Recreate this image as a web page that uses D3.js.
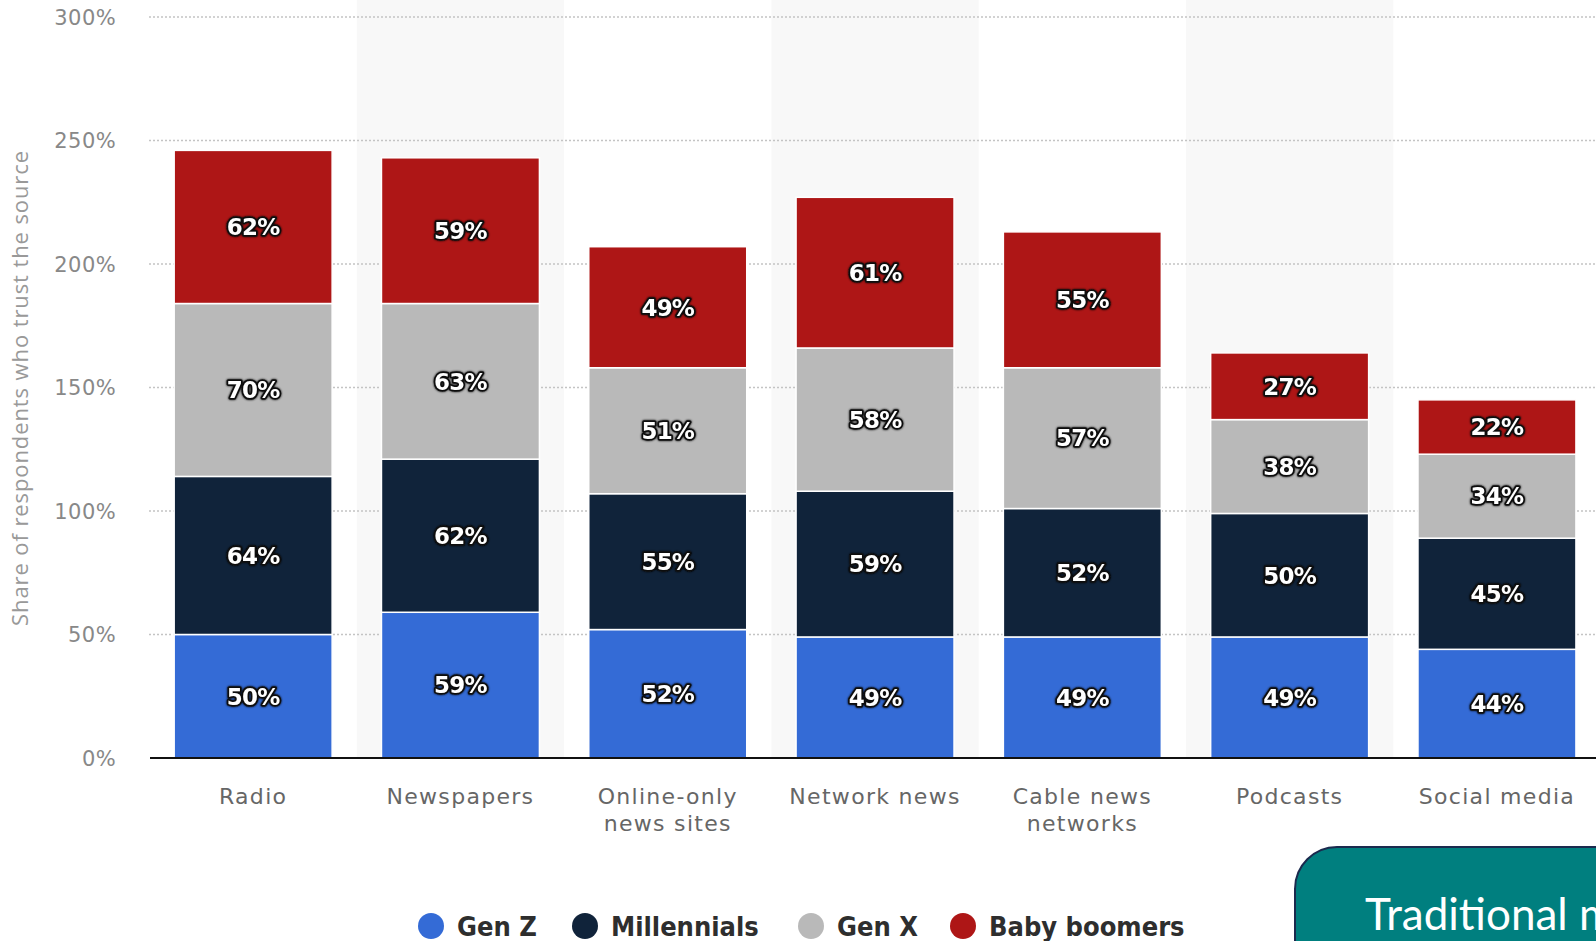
<!DOCTYPE html>
<meta charset="utf-8">
<script src="https://cdn.jsdelivr.net/npm/d3@7"></script>
<style>
body { margin: 0; background: #fff; overflow: hidden; }
.grid line { stroke: #c4c4c4; stroke-width: 1.6px; stroke-dasharray: 2,2; }
.tick-y { font-family: "DejaVu Sans", sans-serif; font-size: 21px; fill: #888; letter-spacing: 0.4px; }
.tick-x { font-family: "DejaVu Sans", sans-serif; font-size: 22px; fill: #666; letter-spacing: 1.3px; }
.seg-label {
    font-family: "DejaVu Sans", sans-serif; font-weight: bold; font-size: 23px;
    fill: #fff; stroke: #111; stroke-width: 3.5px; paint-order: stroke; stroke-linejoin: round;
    letter-spacing: -0.8px;
}
.legend text { font-family: "Liberation Sans Narrow", "DejaVu Sans Condensed", sans-serif; font-weight: bold; font-size: 27px; fill: #2e2e2e; }
</style>
<body>
<script>

// categories and series (bottom to top of each stack)
var categories = [["Radio"], ["Newspapers"], ["Online-only", "news sites"], ["Network news"],
                  ["Cable news", "networks"], ["Podcasts"], ["Social media"]];
var catKeys = categories.map(function(c) { return c.join(" "); });
var series = ["Gen Z", "Millennials", "Gen X", "Baby boomers"];
var colors = ["#346bd6", "#10233a", "#b9b9b9", "#ae1616"];

var genZ        = [50, 59, 52, 49, 49, 49, 44];
var millennials = [64, 62, 55, 59, 52, 50, 45];
var genX        = [70, 63, 51, 58, 57, 38, 34];
var boomers     = [62, 59, 49, 61, 55, 27, 22];
var yTicks = [0, 50, 100, 150, 200, 250, 300];

var width = 1596, height = 941;
var svg = d3.select("body").append("svg")
    .attr("width", width)
    .attr("height", height);

// soft dark glow behind the segment labels
var filt = svg.append("defs").append("filter").attr("id", "halo")
    .attr("x", "-20%").attr("y", "-30%").attr("width", "140%").attr("height", "160%");
filt.append("feGaussianBlur").attr("in", "SourceAlpha").attr("stdDeviation", 1.2).attr("result", "b");
var merge = filt.append("feMerge");
merge.append("feMergeNode").attr("in", "b");
merge.append("feMergeNode").attr("in", "SourceGraphic");

// scales
var x = d3.scaleBand().domain(catKeys).range([149.5, 1600.6]).paddingInner(0.238).paddingOuter(0.119);
var bandW = x.step();
var y = d3.scaleLinear().domain([0, 300]).range([758, 17]);

// alternate band shading
svg.append("g").selectAll("rect")
    .data(catKeys.filter(function(d, i) { return i % 2 == 1; }))
  .enter().append("rect")
    .attr("x", function(d) { return x(d) + x.bandwidth() / 2 - bandW / 2; })
    .attr("y", 0)
    .attr("width", bandW)
    .attr("height", y(0))
    .attr("fill", "#f8f8f8");

// grid lines
svg.append("g").attr("class", "grid")
    .selectAll("line").data(yTicks.slice(1)).enter().append("line")
    .attr("x1", 149).attr("x2", width)
    .attr("y1", function(d) { return y(d); })
    .attr("y2", function(d) { return y(d); });

// y tick labels
svg.append("g").selectAll("text").data(yTicks).enter().append("text")
    .attr("class", "tick-y")
    .attr("x", 116)
    .attr("y", function(d) { return y(d); })
    .attr("dy", "0.36em")
    .attr("text-anchor", "end")
    .text(function(d) { return d + "%"; });

// y axis title
svg.append("text")
    .attr("transform", "translate(28,388) rotate(-90)")
    .attr("text-anchor", "middle")
    .style("font-family", "'Open Sans', sans-serif")
    .style("font-size", "22px")
    .style("letter-spacing", "0.9px")
    .style("fill", "#999")
    .text("Share of respondents who trust the source");

// stack the data
var rows = catKeys.map(function(k, i) {
    return {cat: k, "Gen Z": genZ[i], "Millennials": millennials[i], "Gen X": genX[i], "Baby boomers": boomers[i]};
});
var stacked = d3.stack().keys(series)(rows);

var layer = svg.append("g").selectAll("g")
    .data(stacked).enter().append("g")
    .attr("fill", function(d, i) { return colors[i]; });

layer.selectAll("rect")
    .data(function(d) { return d; })
  .enter().append("rect")
    .attr("x", function(d) { return x(d.data.cat); })
    .attr("y", function(d) { return y(d[1]); })
    .attr("width", x.bandwidth())
    .attr("height", function(d) { return y(d[0]) - y(d[1]); })
    .attr("stroke", "#fff")
    .attr("stroke-width", 1.5);

layer.selectAll("text")
    .data(function(d) { return d; })
  .enter().append("text")
    .attr("class", "seg-label")
    .attr("filter", "url(#halo)")
    .attr("x", function(d) { return x(d.data.cat) + x.bandwidth() / 2; })
    .attr("y", function(d) { return (y(d[0]) + y(d[1])) / 2; })
    .attr("dy", "0.36em")
    .attr("text-anchor", "middle")
    .text(function(d) { return (d[1] - d[0]) + "%"; });

// baseline
svg.append("line")
    .attr("x1", 150).attr("x2", width)
    .attr("y1", y(0)).attr("y2", y(0))
    .attr("stroke", "#111").attr("stroke-width", 2);

// category labels
var catG = svg.append("g").selectAll("text")
    .data(categories).enter().append("text")
    .attr("class", "tick-x")
    .attr("text-anchor", "middle")
    .attr("x", function(d, i) { return x(catKeys[i]) + x.bandwidth() / 2; })
    .attr("y", 804);
catG.selectAll("tspan")
    .data(function(d) { return d; })
  .enter().append("tspan")
    .attr("x", function() { return d3.select(this.parentNode).attr("x"); })
    .attr("dy", function(d, i) { return i == 0 ? 0 : 27; })
    .text(function(d) { return d; });

// legend
var legendX = [431, 585, 811, 963];
var legend = svg.append("g").attr("class", "legend")
    .selectAll("g").data(series).enter().append("g")
    .attr("transform", function(d, i) { return "translate(" + legendX[i] + ",926)"; });
legend.append("circle").attr("r", 13).attr("fill", function(d, i) { return colors[i]; });
legend.append("text").attr("x", 26).attr("dy", "0.36em").text(function(d) { return d; });

// teal callout box (runs off the bottom-right corner, as in the source image)
svg.append("rect")
    .attr("x", 1295).attr("y", 847)
    .attr("width", 400).attr("height", 200)
    .attr("rx", 42)
    .attr("fill", "#007f7f")
    .attr("stroke", "#1b2a4e")
    .attr("stroke-width", 2);
svg.append("text")
    .attr("x", 1365).attr("y", 930)
    .style("font-family", "Lato, sans-serif")
    .style("font-size", "44px")
    .style("fill", "#fff")
    .text("Traditional media");

</script>
</body>
